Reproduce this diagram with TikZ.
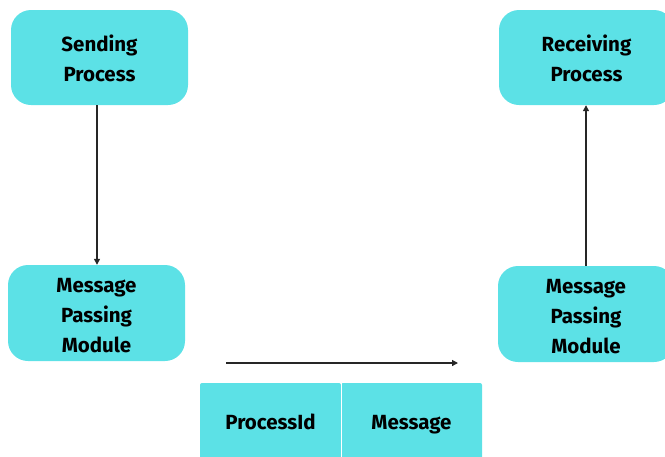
\documentclass[tikz,border=0pt]{standalone}
\usepackage{fontspec}
\setmainfont{Fira Sans}
\usetikzlibrary{arrows.meta}
\definecolor{boxcyan}{HTML}{5CE1E6}
\begin{document}
\begin{tikzpicture}[x=1pt,y=-1pt,
  boxfont/.style={font=\fontsize{20.5}{30}\selectfont\bfseries},
  procbox/.style={fill=boxcyan, rounded corners=20pt, inner sep=0pt},
  proctext/.style={boxfont, align=center, inner sep=0pt},
  fieldbox/.style={fill=boxcyan, rounded corners=2pt, inner sep=0pt},
  fieldtext/.style={boxfont, anchor=base, inner sep=0pt},
  flow/.style={draw=black!85, line width=1.3pt, -{Triangle[length=6pt,width=6pt]}}]
  \useasboundingbox (0,0) rectangle (665,456);
  \clip (0,0) rectangle (665,456);
  % process boxes
  \node[procbox, minimum width=177pt, minimum height=95pt] (send) at (99.5,57.5) {};
  \node[proctext] (sendtext) at (99.5,58.5) {Sending\\Process};
  \node[procbox, minimum width=175pt, minimum height=95pt] (recv) at (586.5,57.5) {};
  \node[proctext] (recvtext) at (586.5,58.5) {Receiving\\Process};
  % message passing modules
  \node[procbox, minimum width=177pt, minimum height=96pt] (mpmL) at (96.5,313) {};
  \node[proctext] (mpmLtext) at (96.5,316) {Message\\Passing\\Module};
  \node[procbox, minimum width=176pt, minimum height=96pt] (mpmR) at (586,314) {};
  \node[proctext] (mpmRtext) at (586,317) {Message\\Passing\\Module};
  % message fields
  \node[fieldbox, minimum width=141pt, minimum height=90pt] (pid) at (270.5,428) {};
  \node[fieldbox, minimum width=141pt, minimum height=90pt] (msg) at (411.5,428) {};
  \draw[white, line width=0.4pt] (pid.north east) -- (pid.south east);
  \node[fieldtext] (pidtext) at (270.5,429) {ProcessId};
  \node[fieldtext] (msgtext) at (411.5,429) {Message};
  % connectors
  \coordinate (hstart) at (226,363);
  \coordinate (hend) at (458,363);
  \draw[flow] (send.south -| 97,0) -- (mpmL.north -| 97,0);
  \draw[flow] (mpmR.north -| 586,0) -- (recv.south -| 586,0);
  \draw[flow] (hstart) -- (hend);
\end{tikzpicture}
\end{document}
